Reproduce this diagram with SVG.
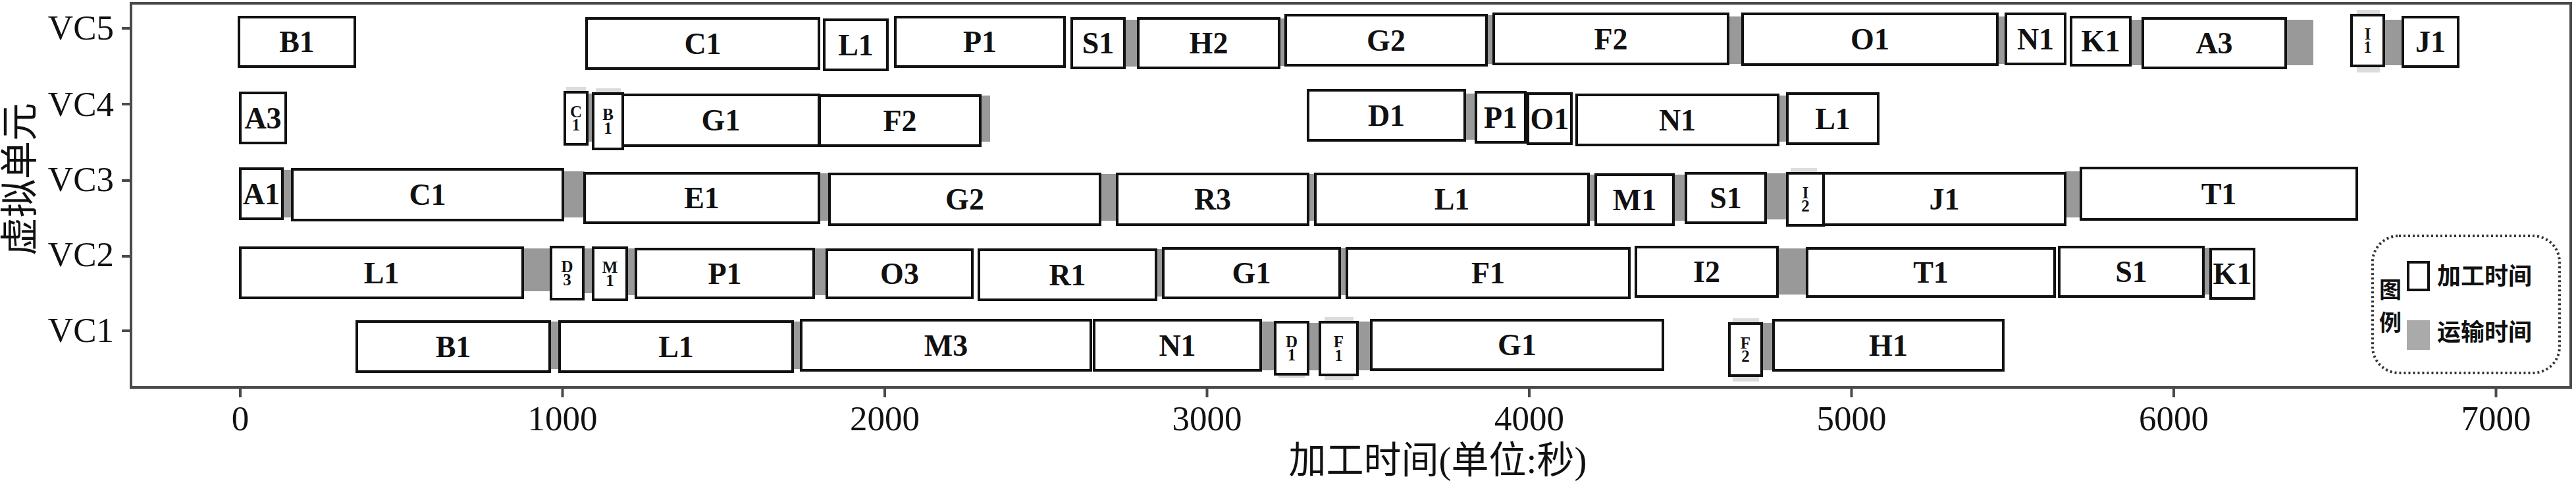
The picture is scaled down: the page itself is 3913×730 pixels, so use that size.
<svg xmlns="http://www.w3.org/2000/svg" width="3913" height="730" viewBox="0 0 3913 730">
<defs>
<style>
.b{fill:#fff;stroke:#111;stroke-width:4}
.g{fill:#999}
.sh{fill:#dcdcdc}
.lb{font-family:"Liberation Serif",serif;font-weight:bold;font-size:46px;text-anchor:middle;fill:#111}
.sm{font-family:"Liberation Serif",serif;font-weight:bold;font-size:25px;text-anchor:middle;fill:#111}
.tk{font-family:"Liberation Serif",serif;font-size:53px;fill:#111}
.ax{stroke:#4a4a4a;stroke-width:4;fill:none}
.cj{font-family:"Liberation Serif","Noto Sans CJK SC",serif;fill:#111}
</style>
</defs>
<rect width="3913" height="730" fill="#fff"/>
<g id="axes">
<rect class="ax" x="199" y="5" width="3706" height="583"/>
<path class="ax" d="M185 43H199M185 158H199M185 274H199M185 389H199M185 502H199"/>
<path class="ax" d="M365 588V603M854.5 588V603M1344 588V603M1833.5 588V603M2323 588V603M2812.5 588V603M3302 588V603M3791.5 588V603"/>
<g class="tk" text-anchor="end">
<text x="173" y="60">VC5</text><text x="173" y="176">VC4</text><text x="173" y="290">VC3</text><text x="173" y="404">VC2</text><text x="173" y="519">VC1</text>
</g>
<g class="tk" text-anchor="middle">
<text x="365" y="653">0</text><text x="854.5" y="653">1000</text><text x="1344" y="653">2000</text><text x="1833.5" y="653">3000</text><text x="2323" y="653">4000</text><text x="2812.5" y="653">5000</text><text x="3302" y="653">6000</text><text x="3791.5" y="653">7000</text>
</g>
<text class="cj" font-size="58" text-anchor="middle" transform="translate(50,272) rotate(-90)">虚拟单元</text>
<text class="cj" font-size="57" text-anchor="middle" x="2184" y="718">加工时间(单位:秒)</text>
</g>
<g id="shadows">
<rect class="sh" x="3580" y="15" width="35" height="95"/>
<rect class="sh" x="860" y="132" width="30" height="12"/>
<rect class="sh" x="905" y="134" width="38" height="10"/>
<rect class="sh" x="2720" y="255" width="40" height="10"/>
<rect class="sh" x="1942" y="564" width="40" height="10"/>
<rect class="sh" x="2012" y="481" width="44" height="96"/>
<rect class="sh" x="2632" y="483" width="40" height="96"/>
</g>
<g id="transport">
<rect class="g" x="1708" y="30" width="21" height="71"/>
<rect class="g" x="1940" y="28" width="13" height="72"/>
<rect class="g" x="2258" y="23" width="11" height="74"/>
<rect class="g" x="2625" y="25" width="22" height="72"/>
<rect class="g" x="3034" y="25" width="13" height="72"/>
<rect class="g" x="3236" y="30" width="19" height="69"/>
<rect class="g" x="3472" y="30" width="42" height="69"/>
<rect class="g" x="3621" y="30" width="29" height="69"/>
<rect class="g" x="888" y="142" width="13" height="73"/>
<rect class="g" x="1489" y="145" width="15" height="70"/>
<rect class="g" x="2225" y="142" width="17" height="70"/>
<rect class="g" x="2701" y="145" width="14" height="70"/>
<rect class="g" x="429" y="258" width="15" height="72"/>
<rect class="g" x="855" y="260" width="33" height="70"/>
<rect class="g" x="1244" y="263" width="16" height="72"/>
<rect class="g" x="1671" y="264" width="26" height="71"/>
<rect class="g" x="1987" y="264" width="11" height="71"/>
<rect class="g" x="2413" y="265" width="11" height="70"/>
<rect class="g" x="2542" y="265" width="19" height="70"/>
<rect class="g" x="2682" y="263" width="33" height="70"/>
<rect class="g" x="3137" y="260" width="24" height="70"/>
<rect class="g" x="794" y="377" width="43" height="65"/>
<rect class="g" x="886" y="377" width="15" height="68"/>
<rect class="g" x="952" y="377" width="14" height="71"/>
<rect class="g" x="1236" y="377" width="20" height="71"/>
<rect class="g" x="1756" y="378" width="11" height="72"/>
<rect class="g" x="2035" y="376" width="11" height="72"/>
<rect class="g" x="2700" y="377" width="45" height="70"/>
<rect class="g" x="3347" y="376" width="11" height="71"/>
<rect class="g" x="835" y="488" width="15" height="72"/>
<rect class="g" x="1204" y="488" width="13" height="72"/>
<rect class="g" x="1915" y="488" width="22" height="74"/>
<rect class="g" x="1987" y="490" width="18" height="72"/>
<rect class="g" x="2062" y="488" width="21" height="74"/>
<rect class="g" x="2676" y="490" width="18" height="72"/>
</g>
<g id="vc5">
<g id="vc5-b1"><rect class="b" x="363" y="26" width="176" height="75"/><text class="lb" x="451" y="79">B1</text></g>
<g id="vc5-c1"><rect class="b" x="891" y="28" width="353" height="76"/><text class="lb" x="1067.5" y="81.5">C1</text></g>
<g id="vc5-l1"><rect class="b" x="1252" y="30" width="96" height="76"/><text class="lb" x="1300" y="83.5">L1</text></g>
<g id="vc5-p1"><rect class="b" x="1360" y="26" width="257" height="75"/><text class="lb" x="1488.5" y="79">P1</text></g>
<g id="vc5-s1"><rect class="b" x="1628" y="28" width="80" height="75"/><text class="lb" x="1668" y="81">S1</text></g>
<g id="vc5-h2"><rect class="b" x="1729" y="28" width="214" height="75"/><text class="lb" x="1836" y="81">H2</text></g>
<g id="vc5-g2"><rect class="b" x="1953" y="23" width="305" height="76"/><text class="lb" x="2105.5" y="76.5">G2</text></g>
<g id="vc5-f2"><rect class="b" x="2269" y="21" width="356" height="76"/><text class="lb" x="2447" y="74.5">F2</text></g>
<g id="vc5-o1"><rect class="b" x="2647" y="21" width="387" height="77"/><text class="lb" x="2840.5" y="75">O1</text></g>
<g id="vc5-n1"><rect class="b" x="3047" y="21" width="90" height="76"/><text class="lb" x="3092" y="74.5">N1</text></g>
<g id="vc5-k1"><rect class="b" x="3146" y="26" width="90" height="73"/><text class="lb" x="3191" y="78">K1</text></g>
<g id="vc5-a3"><rect class="b" x="3255" y="28" width="217" height="75"/><text class="lb" x="3363.5" y="81">A3</text></g>
<g id="vc5-i1"><rect class="b" x="3572" y="23" width="49" height="77"/><text class="sm" x="3596.5" y="59.5">I</text><text class="sm" x="3596.5" y="80">1</text></g>
<g id="vc5-j1"><rect class="b" x="3650" y="26" width="84" height="75"/><text class="lb" x="3692" y="79">J1</text></g>
</g>
<g id="vc4">
<g id="vc4-a3"><rect class="b" x="365" y="141" width="69" height="76"/><text class="lb" x="399.5" y="194.5">A3</text></g>
<g id="vc4-c1"><rect class="b" x="858" y="140" width="34" height="79"/><text class="sm" x="875" y="177.5">C</text><text class="sm" x="875" y="198">1</text></g>
<g id="vc4-b1"><rect class="b" x="901" y="142" width="45" height="84"/><text class="sm" x="923.5" y="182">B</text><text class="sm" x="923.5" y="202.5">1</text></g>
<g id="vc4-g1"><rect class="b" x="946" y="144" width="298" height="77"/><text class="lb" x="1095" y="198">G1</text></g>
<g id="vc4-f2"><rect class="b" x="1245" y="145" width="244" height="76"/><text class="lb" x="1367" y="198.5">F2</text></g>
<g id="vc4-d1"><rect class="b" x="1987" y="137" width="238" height="76"/><text class="lb" x="2106" y="190.5">D1</text></g>
<g id="vc4-p1"><rect class="b" x="2242" y="140" width="75" height="76"/><text class="lb" x="2279.5" y="193.5">P1</text></g>
<g id="vc4-o1"><rect class="b" x="2321" y="142" width="66" height="76"/><text class="lb" x="2354" y="195.5">O1</text></g>
<g id="vc4-n1"><rect class="b" x="2395" y="144" width="306" height="76"/><text class="lb" x="2548" y="197.5">N1</text></g>
<g id="vc4-l1"><rect class="b" x="2715" y="142" width="138" height="76"/><text class="lb" x="2784" y="195.5">L1</text></g>
</g>
<g id="vc3">
<g id="vc3-a1"><rect class="b" x="365" y="256" width="64" height="76"/><text class="lb" x="397" y="309.5">A1</text></g>
<g id="vc3-c1"><rect class="b" x="444" y="257" width="411" height="77"/><text class="lb" x="649.5" y="311">C1</text></g>
<g id="vc3-e1"><rect class="b" x="888" y="263" width="356" height="75"/><text class="lb" x="1066" y="316">E1</text></g>
<g id="vc3-g2"><rect class="b" x="1260" y="264" width="411" height="77"/><text class="lb" x="1465.5" y="318">G2</text></g>
<g id="vc3-r3"><rect class="b" x="1697" y="264" width="290" height="77"/><text class="lb" x="1842" y="318">R3</text></g>
<g id="vc3-l1"><rect class="b" x="1998" y="264" width="415" height="77"/><text class="lb" x="2205.5" y="318">L1</text></g>
<g id="vc3-m1"><rect class="b" x="2424" y="265" width="118" height="76"/><text class="lb" x="2483" y="318.5">M1</text></g>
<g id="vc3-s1"><rect class="b" x="2561" y="263" width="121" height="75"/><text class="lb" x="2621.5" y="316">S1</text></g>
<g id="vc3-i2"><rect class="b" x="2715" y="263" width="55" height="79"/><text class="sm" x="2742.5" y="300.5">I</text><text class="sm" x="2742.5" y="321">2</text></g>
<g id="vc3-j1"><rect class="b" x="2770" y="263" width="367" height="78"/><text class="lb" x="2953.5" y="317.5">J1</text></g>
<g id="vc3-t1"><rect class="b" x="3161" y="255" width="419" height="78"/><text class="lb" x="3370.5" y="309.5">T1</text></g>
</g>
<g id="vc2">
<g id="vc2-l1"><rect class="b" x="365" y="376" width="429" height="76"/><text class="lb" x="579.5" y="429.5">L1</text></g>
<g id="vc2-d3"><rect class="b" x="837" y="375" width="49" height="79"/><text class="sm" x="861.5" y="412.5">D</text><text class="sm" x="861.5" y="433">3</text></g>
<g id="vc2-m1"><rect class="b" x="901" y="376" width="51" height="79"/><text class="sm" x="926.5" y="413.5">M</text><text class="sm" x="926.5" y="434">1</text></g>
<g id="vc2-p1"><rect class="b" x="966" y="378" width="270" height="74"/><text class="lb" x="1101" y="430.5">P1</text></g>
<g id="vc2-o3"><rect class="b" x="1256" y="379" width="221" height="73"/><text class="lb" x="1366.5" y="431">O3</text></g>
<g id="vc2-r1"><rect class="b" x="1487" y="379" width="269" height="76"/><text class="lb" x="1621.5" y="432.5">R1</text></g>
<g id="vc2-g1"><rect class="b" x="1767" y="377" width="268" height="75"/><text class="lb" x="1901" y="430">G1</text></g>
<g id="vc2-f1"><rect class="b" x="2046" y="377" width="429" height="75"/><text class="lb" x="2260.5" y="430">F1</text></g>
<g id="vc2-i2"><rect class="b" x="2485" y="375" width="215" height="75"/><text class="lb" x="2592.5" y="428">I2</text></g>
<g id="vc2-t1"><rect class="b" x="2745" y="377" width="376" height="73"/><text class="lb" x="2933" y="429">T1</text></g>
<g id="vc2-s1"><rect class="b" x="3128" y="375" width="219" height="75"/><text class="lb" x="3237.5" y="428">S1</text></g>
<g id="vc2-k1"><rect class="b" x="3358" y="378" width="66" height="75"/><text class="lb" x="3391" y="431">K1</text></g>
</g>
<g id="vc1">
<g id="vc1-b1"><rect class="b" x="542" y="488" width="293" height="76"/><text class="lb" x="688.5" y="541.5">B1</text></g>
<g id="vc1-l1"><rect class="b" x="850" y="488" width="354" height="76"/><text class="lb" x="1027" y="541.5">L1</text></g>
<g id="vc1-m3"><rect class="b" x="1217" y="486" width="440" height="76"/><text class="lb" x="1437" y="539.5">M3</text></g>
<g id="vc1-n1"><rect class="b" x="1662" y="486" width="253" height="76"/><text class="lb" x="1788.5" y="539.5">N1</text></g>
<g id="vc1-d1"><rect class="b" x="1937" y="489" width="50" height="79"/><text class="sm" x="1962" y="526.5">D</text><text class="sm" x="1962" y="547">1</text></g>
<g id="vc1-f1"><rect class="b" x="2005" y="489" width="57" height="80"/><text class="sm" x="2033.5" y="527">F</text><text class="sm" x="2033.5" y="547.5">1</text></g>
<g id="vc1-g1"><rect class="b" x="2083" y="486" width="443" height="75"/><text class="lb" x="2304.5" y="539">G1</text></g>
<g id="vc1-f2"><rect class="b" x="2627" y="491" width="49" height="79"/><text class="sm" x="2651.5" y="528.5">F</text><text class="sm" x="2651.5" y="549">2</text></g>
<g id="vc1-h1"><rect class="b" x="2694" y="486" width="349" height="76"/><text class="lb" x="2868.5" y="539.5">H1</text></g>
</g>
<g id="legend">
<rect x="3604" y="358" width="284" height="208" rx="40" ry="40" fill="#fff" stroke="#333" stroke-width="4" stroke-dasharray="3 4"/>
<text class="cj" font-size="34" font-weight="bold" x="3631" y="452" text-anchor="middle">图</text>
<text class="cj" font-size="34" font-weight="bold" x="3631" y="502" text-anchor="middle">例</text>
<rect class="b" x="3658" y="398" width="31" height="42"/>
<text class="cj" font-size="36" font-weight="bold" x="3702" y="432">加工时间</text>
<rect x="3656" y="486" width="35" height="45" fill="#aaa"/>
<text class="cj" font-size="36" font-weight="bold" x="3702" y="517">运输时间</text>
</g>
<g id="connectors"/>
</svg>
